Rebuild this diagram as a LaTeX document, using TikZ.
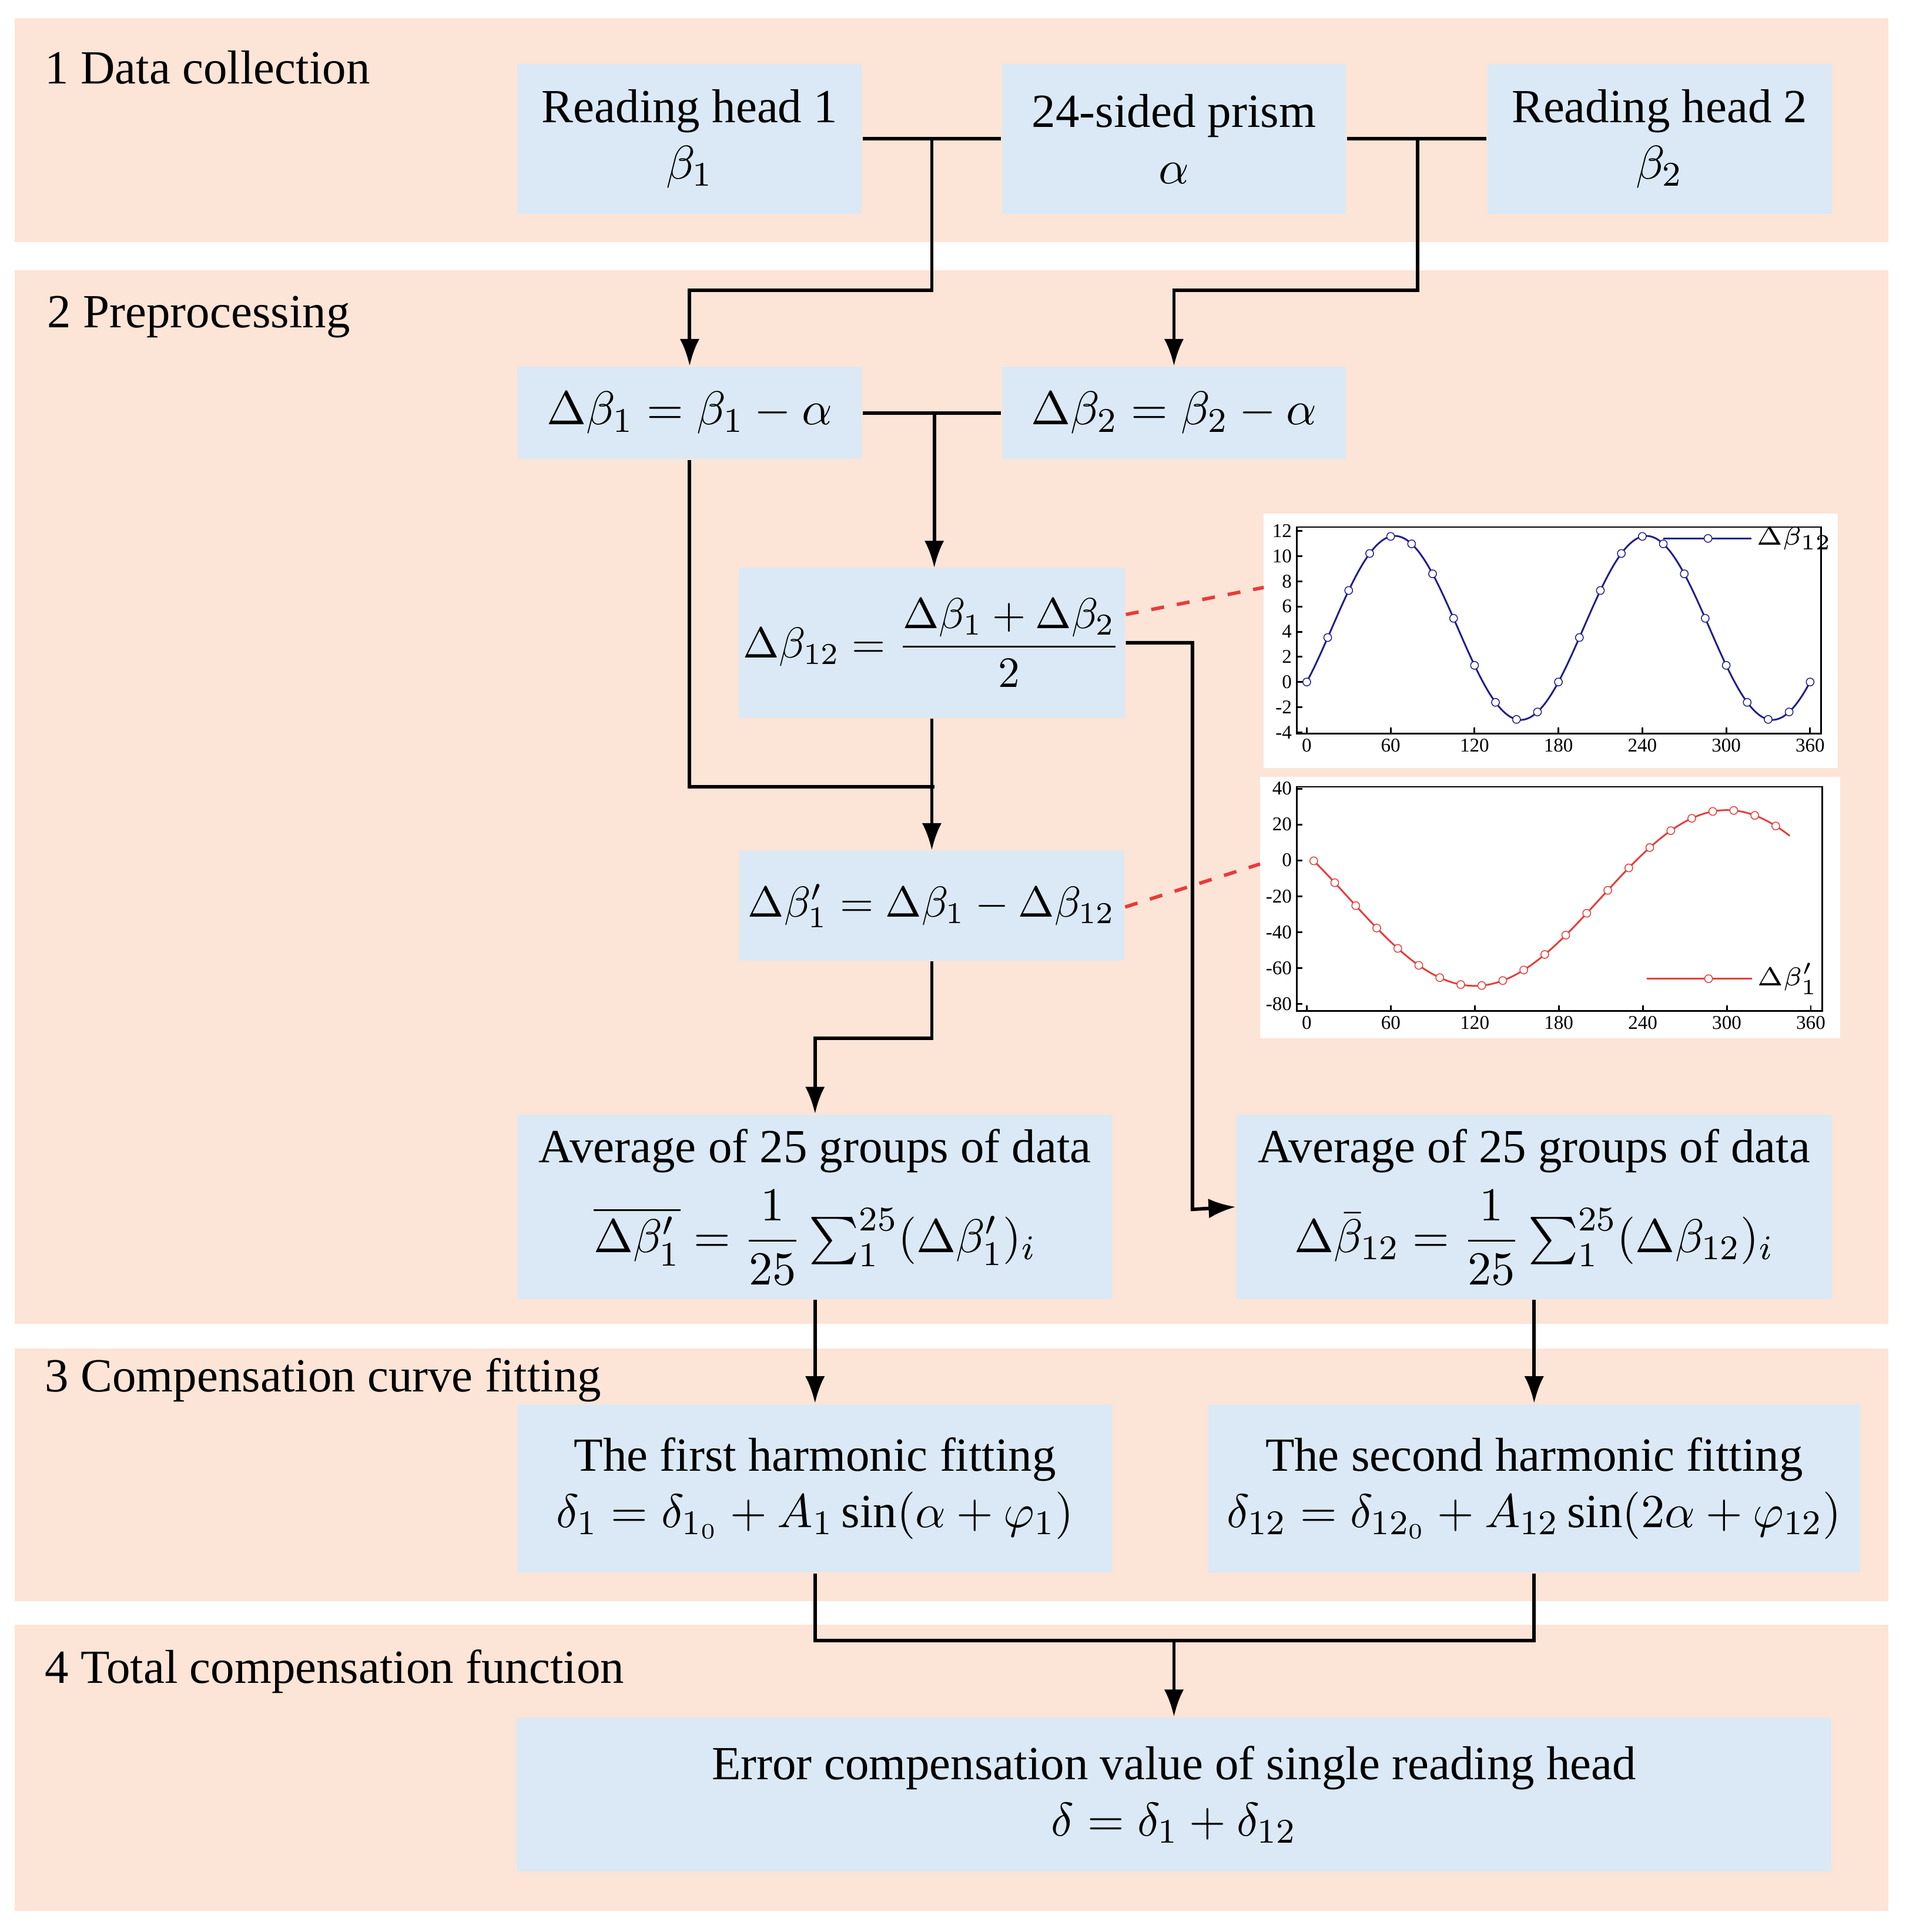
\documentclass[tikz,border=0pt]{standalone}
\usepackage{fontspec}
\setmainfont{Liberation Serif}
\usepackage{amsmath}
\usetikzlibrary{arrows.meta,positioning,calc}
\definecolor{peach}{RGB}{252,228,214}
\definecolor{paleblue}{RGB}{218,233,245}
\definecolor{plotblue}{RGB}{30,30,140}
\definecolor{plotred}{RGB}{230,60,60}
\tikzset{
  font=\fontsize{11}{13}\selectfont,>={Latex[length=2.2mm,width=1.6mm]},
  band/.style={fill=peach,draw=none},
  box/.style={fill=paleblue,draw=none,align=center,inner sep=1pt},
  small/.style={font=\fontsize{10}{12}\selectfont},
  title/.style={anchor=west,inner sep=0pt},
  line/.style={draw,thick},
  link/.style={draw,thick,dashed,plotred},
  tick/.style={font=\fontsize{4.5}{5}\selectfont,inner sep=1pt}
}
\begin{document}
\begin{tikzpicture}[x=0.01cm,y=-0.01cm]
\useasboundingbox (0,0) rectangle (1550,1572);
% stages
\fill[band] (12,15) rectangle (1536,197);
\fill[band] (12,220) rectangle (1536,1077);
\fill[band] (12,1097) rectangle (1536,1303);
\fill[band] (12,1322) rectangle (1536,1555);
\node[title] (t1) at (36,55) {1 Data collection};
\node[title] (t2) at (38,258) {2 Preprocessing};
\node[title] (t3) at (36,1123) {3 Compensation curve fitting};
\node[title] (t4) at (36,1360) {4 Total compensation function};
% boxes
\node[box,minimum width=2.8cm,minimum height=1.22cm] (rh1) at (561,113) {Reading head 1\\$\beta_1$};
\node[box,minimum width=2.8cm,minimum height=1.22cm] (prism) at (955,113) {24-sided prism\\$\alpha$};
\node[box,minimum width=2.8cm,minimum height=1.22cm] (rh2) at (1350,113) {Reading head 2\\$\beta_2$};
\node[box,minimum width=2.8cm,minimum height=0.75cm] (db1) at (561,336) {$\Delta\beta_1=\beta_1-\alpha$};
\node[box,minimum width=2.8cm,minimum height=0.75cm] (db2) at (955,336) {$\Delta\beta_2=\beta_2-\alpha$};
\node[box,small,minimum width=3.13cm,minimum height=1.22cm] (db12) at (758,523) {$\Delta\beta_{12}=\dfrac{\Delta\beta_1+\Delta\beta_2}{2}$};
\node[box,small,minimum width=3.13cm,minimum height=0.89cm] (db1p) at (758,737) {$\Delta\beta_1'=\Delta\beta_1-\Delta\beta_{12}$};
\node[box,minimum width=4.84cm,minimum height=1.5cm] (avg1) at (663,982) {Average of 25 groups of data\\[3pt]$\overline{\Delta\beta_1'}=\dfrac{1}{25}\sum_1^{25}(\Delta\beta_1')_i$};
\node[box,minimum width=4.84cm,minimum height=1.5cm] (avg2) at (1248,982) {Average of 25 groups of data\\[3pt]$\Delta\bar\beta_{12}=\dfrac{1}{25}\sum_1^{25}(\Delta\beta_{12})_i$};
\node[box,minimum width=4.84cm,minimum height=1.37cm] (fit1) at (663,1211) {The first harmonic fitting\\$\delta_1=\delta_{1_0}+A_1\sin(\alpha+\varphi_1)$};
\node[box,minimum width=5.3cm,minimum height=1.37cm] (fit2) at (1248,1211) {The second harmonic fitting\\$\delta_{12}=\delta_{12_0}+A_{12}\sin(2\alpha+\varphi_{12})$};
\node[box,minimum width=10.69cm,minimum height=1.25cm] (total) at (955,1460) {Error compensation value of single reading head\\$\delta=\delta_1+\delta_{12}$};
% connectors
\draw[line] (rh1.east) -- (prism.west);
\draw[line] (prism.east) -- (rh2.west);
\draw[line,->] (758,113) |- (561,236) -- (db1.north);
\draw[line,->] (1153,113) |- (955,236) -- (db2.north);
\draw[line] (db1.east) -- (db2.west);
\draw[line,->] (760,336) -- (760,462);
\draw[line] (db1.south) |- (760,640);
\draw[line,->] (db12.south) -- (db1p.north);
\draw[line,->] (db12.east) -| (970,984) -- (avg2.west);
\draw[line,->] (db1p.south) |- (663,845) -- (avg1.north);
\draw[line,->] (avg1.south) -- (fit1.north);
\draw[line,->] (avg2.south) -- (fit2.north);
\draw[line] (fit1.south) |- (1248,1335) -- (fit2.south);
\draw[line,->] (955,1335) -- (total.north);
% plots
\fill[white] (1028,418) rectangle (1495,625);
\fill[white] (1025,632) rectangle (1497,845);
\draw[link] (db12.east |- 0,500) -- (1028,478);
\draw[link] (db1p.east |- 0,738) -- (1025,703);
\begin{scope}[shift={(1063,555)},x=0.0113611cm,y=0.1025cm]
  \draw[thin] (-7,-4.1) rectangle (368,12.3);
  \foreach \v in {-4,-2,...,12} {\draw[thin] (-7,\v) -- (-3,\v); \node[tick,anchor=east] at (-7,\v) {\v};}
  \foreach \u in {0,60,...,360} {\draw[thin] (\u,-4.1) -- (\u,-3.6); \node[tick,anchor=north] at (\u,-4.1) {\u};}
  \draw[plotblue,thin,smooth,domain=0:360,samples=73] plot (\x,{4.3+7.3*sin(2*\x-36)});
  \foreach \u in {0,15,...,360} \draw[plotblue,fill=white,line width=0.2pt] (\u,{4.3+7.3*sin(2*\u-36)}) circle (0.9pt);
  \draw[plotblue,thin] (255,11.4) -- (318,11.4);
  \draw[plotblue,fill=white,line width=0.2pt] (287,11.4) circle (0.9pt);
  \node[tick,anchor=west,font=\fontsize{6}{6}\selectfont] (lg1) at (318,11.4) {$\Delta\beta_{12}$};
\end{scope}
\begin{scope}[shift={(1063,700)},x=0.0113889cm,y=0.01458cm]
  \draw[thin] (-7,-84) rectangle (368,41);
  \foreach \v in {-80,-60,...,40} {\draw[thin] (-7,\v) -- (-3,\v); \node[tick,anchor=east] at (-7,\v) {\v};}
  \foreach \u in {0,60,...,360} {\draw[thin] (\u,-84) -- (\u,-81); \node[tick,anchor=north] at (\u,-84) {\u};}
  \draw[plotred,thin,smooth,domain=5:345,samples=69] plot (\x,{-21+49*sin(\x-210)});
  \foreach \u in {5,20,...,345} \draw[plotred,fill=white,line width=0.2pt] (\u,{-21+49*sin(\u-210)}) circle (0.9pt);
  \draw[plotred,thin] (243,-66) -- (318,-66);
  \draw[plotred,fill=white,line width=0.2pt] (287,-66) circle (0.9pt);
  \node[tick,anchor=west,font=\fontsize{6}{6}\selectfont] (lg2) at (318,-66) {$\Delta\beta_1'$};
\end{scope}
\end{tikzpicture}
\end{document}
